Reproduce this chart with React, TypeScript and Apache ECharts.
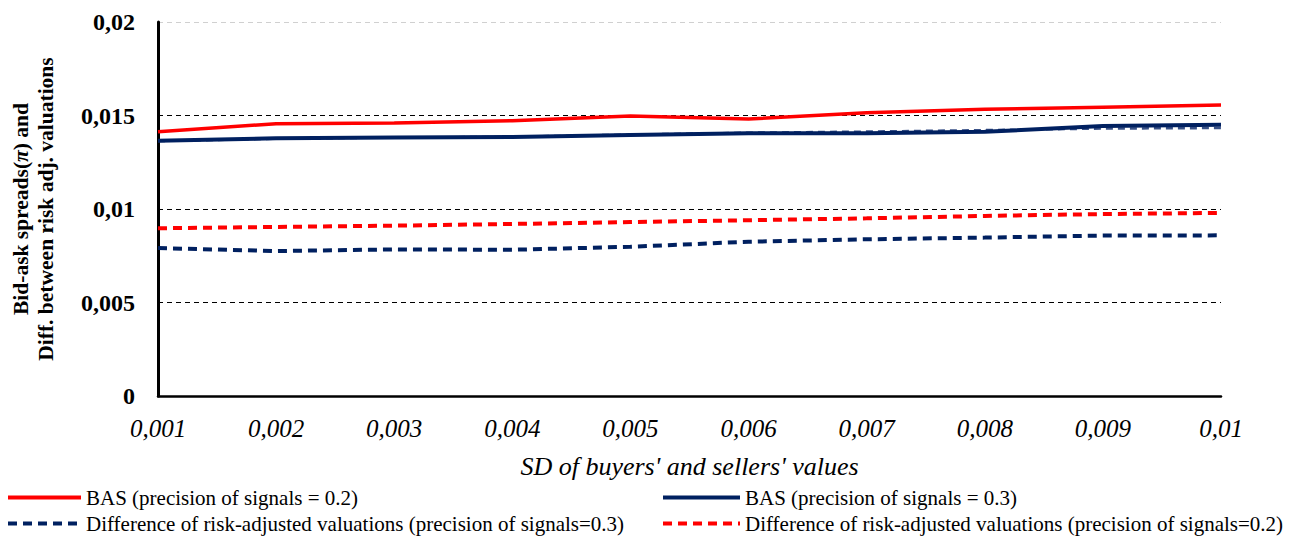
import React, { useEffect, useRef } from "react";
import * as echarts from "echarts";

const categories = ["0,001", "0,002", "0,003", "0,004", "0,005", "0,006", "0,007", "0,008", "0,009", "0,01"];
const basP02 = [0.01413, 0.01456, 0.0146, 0.01472, 0.01497, 0.01481, 0.01515, 0.01533, 0.01544, 0.01556];
const basP03 = [0.01365, 0.01378, 0.01383, 0.01385, 0.01396, 0.01405, 0.01405, 0.01413, 0.01444, 0.01451];
const basP03Shadow = [0.01363, 0.01376, 0.01382, 0.01386, 0.01398, 0.01408, 0.01414, 0.01422, 0.0143, 0.01433];
const diffP03 = [0.00791, 0.00775, 0.00784, 0.00782, 0.00798, 0.00825, 0.00838, 0.00847, 0.00858, 0.00859];
const diffP02 = [0.00897, 0.00904, 0.00911, 0.0092, 0.0093, 0.0094, 0.0095, 0.00963, 0.00973, 0.00979];
const yTicks = [0, 0.005, 0.01, 0.015, 0.02];

const NAMES = {
  bas02: "BAS (precision of signals = 0.2)",
  bas03: "BAS (precision of signals = 0.3)",
  diff03: "Difference of risk-adjusted valuations (precision of signals=0.3)",
  diff02: "Difference of risk-adjusted valuations (precision of signals=0.2)",
};

const RED = "#ff0000";
const NAVY = "#002060";
const FONT = "Liberation Serif";

export default function App() {
  const ref = useRef<HTMLDivElement>(null);
  useEffect(() => {
    document.body.style.margin = "0";
    const chart = echarts.init(ref.current!, null, { renderer: "svg" });
    const mkLegend = (name: string, left: number, top: number, w: number) => ({
      data: [name],
      left,
      top,
      itemWidth: w,
      itemHeight: 14,
      itemGap: 0,
      padding: 0,
      formatter: (n: string) => `{t|${n}}`,
      textStyle: {
        fontFamily: FONT,
        fontSize: 21,
        color: "#000",
        rich: { t: { fontFamily: FONT, fontSize: 21, color: "#000" } },
      },
      itemStyle: { opacity: 0 },
      lineStyle: { width: 4 },
    });
    chart.setOption({
      animation: false,
      backgroundColor: "#fff",
      textStyle: { fontFamily: FONT },
      grid: { left: 158, right: 79, top: 22, bottom: 141, containLabel: false },
      legend: [
        mkLegend(NAMES.bas02, 6, 487, 73),
        mkLegend(NAMES.diff03, 6, 513, 73),
        mkLegend(NAMES.bas03, 661, 487, 77),
        mkLegend(NAMES.diff02, 661, 513, 77),
      ],
      xAxis: {
        type: "category",
        data: categories,
        boundaryGap: false,
        name: "{n|SD of buyers' and sellers' values}",
        nameLocation: "middle",
        nameGap: 57,
        nameTextStyle: {
          fontFamily: FONT,
          fontSize: 26,
          fontStyle: "italic",
          rich: { n: { fontFamily: FONT, fontSize: 26, fontStyle: "italic", color: "#000" } },
        },
        axisLine: { lineStyle: { color: "#000", width: 2.5 } },
        axisTick: { show: false },
        axisLabel: {
          interval: 0,
          fontFamily: FONT,
          fontSize: 25,
          fontStyle: "italic",
          color: "#000",
          margin: 20,
          formatter: (v: string) => `{c|${v}}`,
          rich: { c: { fontFamily: FONT, fontSize: 25, fontStyle: "italic", color: "#000" } },
        },
        splitLine: { show: false },
      },
      yAxis: {
        type: "value",
        min: 0,
        max: 0.02,
        interval: 0.005,
        name: "{a|Bid-ask spreads(}{i|π}{a|) and}\n{a|Diff. between risk adj. valuations}",
        nameLocation: "middle",
        nameGap: 100,
        nameRotate: 90,
        nameTextStyle: {
          fontFamily: FONT,
          rich: {
            a: { fontFamily: FONT, fontSize: 21.5, fontWeight: "bold", color: "#000", lineHeight: 25 },
            i: { fontFamily: FONT, fontSize: 21.5, fontWeight: "bold", fontStyle: "italic", color: "#000", lineHeight: 25 },
          },
        },
        axisLine: { show: true, lineStyle: { color: "#000", width: 3 } },
        axisTick: { show: false },
        axisLabel: {
          fontFamily: FONT,
          fontSize: 24,
          fontWeight: "bold",
          color: "#000",
          margin: 23,
          formatter: (v: number) => {
            const t = yTicks.find((x) => Math.abs(x - v) < 1e-9);
            const s = t === 0 ? "0" : String(t ?? v).replace(".", ",");
            return `{y|${s}}`;
          },
          rich: { y: { fontFamily: FONT, fontSize: 24, fontWeight: "bold", color: "#000" } },
        },
        splitLine: {
          show: true,
          lineStyle: { color: ["#000", "#000", "#000", "#000", "#d0d0d0"], type: [5, 4], width: 1.2 },
        },
      },
      series: [
        {
          name: NAMES.diff02,
          type: "line",
          data: diffP02,
          symbol: "none",
          lineStyle: { color: RED, width: 4, type: [9, 6] },
          itemStyle: { color: RED },
        },
        {
          name: NAMES.diff03,
          type: "line",
          data: diffP03,
          symbol: "none",
          lineStyle: { color: NAVY, width: 4, type: [9, 6] },
          itemStyle: { color: NAVY },
        },
        {
          name: "shadow",
          type: "line",
          data: basP03Shadow,
          symbol: "none",
          lineStyle: { color: "#3a5288", width: 2.5, type: [7, 5] },
          itemStyle: { color: "#3a5288" },
        },
        {
          name: NAMES.bas02,
          type: "line",
          data: basP02,
          symbol: "none",
          lineStyle: { color: RED, width: 3.5 },
          itemStyle: { color: RED },
        },
        {
          name: NAMES.bas03,
          type: "line",
          data: basP03,
          symbol: "none",
          lineStyle: { color: NAVY, width: 4 },
          itemStyle: { color: NAVY },
        },
      ],
    });
    return () => chart.dispose();
  }, []);
  return <div ref={ref} style={{ width: 1300, height: 537 }} />;
}
